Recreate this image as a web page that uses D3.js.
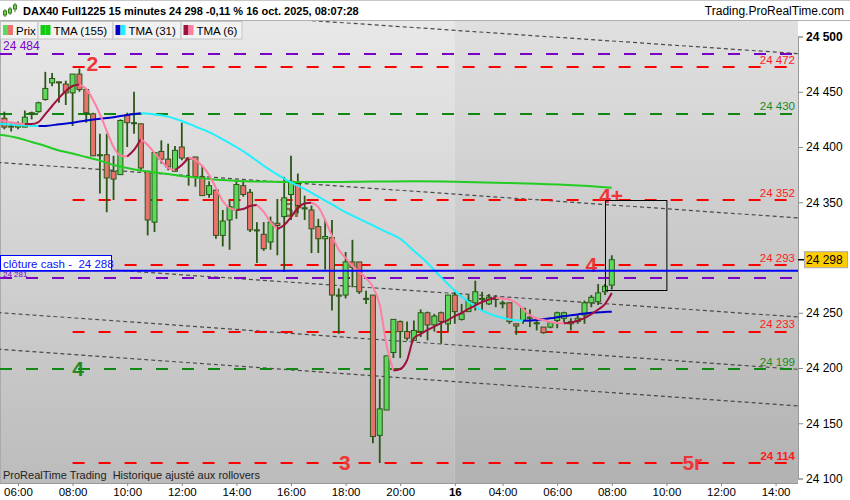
<!DOCTYPE html>
<html>
<head>
<meta charset="utf-8">
<script src="https://cdn.jsdelivr.net/npm/d3@7"></script>
<style>
body { margin: 0; background: #fff; }
svg { display: block; font-family: "Liberation Sans", Arial, sans-serif; }
</style>
</head>
<body>
<svg width="850" height="500"></svg>
<script>
// candle slot index -2 .. 87 (15 min bars), 0 = 06:00 on the 15th
const candleIdx = d3.range(-2, 88);
const opens = [
  24426,24419,24418,24418,24430,24432,24443,24458,24459,24457,
  24449,24466,24452,24430,24393,24393,24378,24375,24429,24422,
  24421,24378,24332,24396,24389,24378,24400,24390,24391,24373,
  24357,24361,24320,24334,24343,24365,24359,24325,24321,24314,
  24331,24337,24357,24367,24344,24343,24328,24317,24318,24265,
  24266,24296,24296,24263,24266,24139,24162,24214,24242,24233,
  24225,24233,24250,24239,24250,24240,24266,24244,24251,24259,
  24263,24258,24262,24259,24259,24240,24243,24245,24240,24237,
  24237,24243,24245,24242,24242,24248,24259,24260,24269,24275];
const highs = [
  24432,24422,24423,24433,24432,24441,24468,24467,24459,24460,
  24466,24471,24452,24431,24412,24412,24392,24425,24431,24450,
  24421,24378,24395,24406,24403,24401,24422,24390,24391,24383,
  24369,24361,24343,24352,24370,24369,24362,24332,24332,24337,
  24353,24373,24392,24376,24356,24347,24335,24334,24334,24272,
  24305,24316,24296,24270,24266,24190,24211,24244,24243,24242,
  24243,24253,24251,24249,24251,24266,24269,24258,24266,24279,
  24269,24267,24266,24261,24259,24240,24254,24253,24245,24237,
  24242,24251,24251,24245,24249,24261,24266,24276,24276,24302];
const lows = [
  24416,24414,24416,24418,24425,24431,24442,24455,24440,24438,
  24419,24450,24422,24392,24358,24341,24352,24375,24400,24412,
  24379,24320,24323,24385,24379,24378,24388,24365,24364,24356,
  24354,24317,24310,24307,24335,24355,24323,24295,24306,24307,
  24302,24287,24334,24340,24334,24304,24304,24289,24252,24231,
  24263,24273,24267,24258,24132,24114,24162,24209,24209,24225,
  24225,24228,24225,24233,24222,24233,24240,24243,24251,24252,
  24252,24257,24255,24254,24240,24230,24240,24237,24234,24231,
  24236,24236,24240,24234,24240,24240,24255,24257,24266,24271];
const closes = [
  24418,24418,24420,24427,24431,24440,24453,24462,24458,24449,
  24466,24452,24431,24392,24393,24372,24371,24424,24422,24422,
  24381,24334,24395,24389,24382,24397,24390,24389,24373,24356,
  24365,24320,24333,24346,24366,24357,24325,24325,24308,24332,
  24329,24354,24369,24347,24345,24326,24317,24319,24266,24266,
  24296,24291,24269,24263,24138,24163,24211,24244,24233,24227,
  24234,24250,24239,24247,24242,24266,24251,24249,24261,24269,
  24263,24264,24263,24259,24242,24238,24254,24246,24241,24232,
  24241,24250,24250,24240,24245,24259,24264,24268,24274,24298];

// moving averages
const tma155Idx = [-3,0,2,4,6,8,10,12,14,16,18,20,22,24,26,28,30,34,40,46,52,58,64,70,76,82,87];
const tma155Val = [24411.3,24408.1,24404.5,24400.9,24396.8,24394.1,24390.9,24387.7,24383.7,24381,24378.7,24376.9,24375.5,24373.7,24372.4,24371,24370.1,24368.8,24368.3,24368.3,24368.8,24368.9,24368.5,24367.6,24366.7,24365.1,24363.1];

const tma31Idx = [-3,-2,0,2,3,4,6,8,10,12,14,16,18,20,22,24,26,28,30,32,34,36,38,40,42,44,46,48,50,52,54,56,58,60,62,64,66,68,70,72,74,76,78,80,82,84,86,87];
const tma31Val = [24421.2,24420.8,24420,24419.2,24418.9,24419.1,24420.5,24422,24424,24425.5,24427,24429,24430.5,24429.5,24427.5,24423.5,24418.5,24413.5,24407,24400,24392,24383,24375,24368,24362,24355,24348,24341,24335,24329,24323,24317,24306,24295,24282,24270,24260,24252,24247,24244,24242.8,24243.5,24245,24247,24248.5,24250,24250.7,24251];

const tma6Idx = d3.range(-3, 88);
const tma6Val = [
  24424.5,24423.5,24422.1,24421.2,24420.8,24420.8,24422.6,24429.8,24437.1,24444.3,24450.7,
  24455.2,24456.5,24452.5,24442.5,24429.8,24414.5,24400,24392.3,24391.4,24397.3,
  24407.2,24401.8,24394.6,24387.3,24381,24379.2,24383.7,24390.5,24388.2,24382.8,
  24374.7,24362.9,24351.1,24344.8,24343,24343.9,24346.6,24347.5,24341.2,24332.1,
  24325.8,24329.4,24336.6,24344.8,24348.9,24349.6,24345.7,24333.9,24319.5,24307,
  24299.6,24292.3,24286.9,24281.4,24273.3,24257,24220.8,24197.7,24199.1,24207,
  24227.1,24230.7,24234.4,24237.5,24240.7,24243.4,24247,24249.8,24253.4,24256.5,
  24259.7,24262,24263.6,24262.9,24262,24258.8,24253.4,24247.9,24244.8,24243.4,
  24241.6,24240.7,24240.4,24241.1,24242.9,24245.2,24248.8,24252.9,24257.9,24267.8];

// horizontal levels
const levelPrice = [24484, 24472, 24430, 24352, 24293, 24281, 24233, 24199, 24114];
const levelKind  = ["purple","red","green","red","red","purple","red","green","red"];

// sloping dotted channel lines: price at slot -3 and at slot 115
const trendFrom = [24533.7, 24386.1, 24295.8, 24250.2, 24217.1];
const trendTo   = [24484.2, 24335.5, 24245.9, 24198.5, 24165.4];

// wave labels
const markText  = ["2", "5r", "4+", "4", "4", "3", "5r"];
const markIdx   = [10.9, 40.1, 86.9, 84, 8.8, 47.9, 98.8];
const markPrice = [24472, 24352, 24352, 24293, 24199, 24114, 24114];
const markColor = ["#ee3535", "#8a5a1c", "#ee3535", "#ee3535", "#1f8a1f", "#ee3535", "#ee3535"];

// time axis
const timeTickIdx = [0, 8, 16, 24, 32, 40, 48, 56, 64, 71, 79, 87, 95, 103, 111];
const timeTickLbl = ["06:00","08:00","10:00","12:00","14:00","16:00","18:00","20:00","16","04:00","06:00","08:00","10:00","12:00","14:00"];
// 24 300 is hidden behind the last-price tag
const priceTicks = [24100, 24150, 24200, 24250, 24350, 24400, 24450, 24500];

const lastPrice = 24298;
const cashClose = 24288;
const boxIdx = [86, 95];
const boxPrice = [24352, 24271];

const W = 850, H = 500;
const plotL = 0, plotR = 798, plotT = 21, plotB = 483;
const svg = d3.select("svg");

const x = d3.scaleLinear().domain([0, 111]).range([18, 775.6]);
const y = d3.scaleLinear().domain([24100, 24500]).range([478.5, 36.5]);
const fmt = d => d3.format(",")(d).replace(/,/g, " ");

const defs = svg.append("defs");
function grad(id, c1, c2) {
  const g = defs.append("linearGradient").attr("id", id).attr("x1", 0).attr("y1", 0).attr("x2", 0).attr("y2", 1);
  g.append("stop").attr("offset", "0%").attr("stop-color", c1);
  g.append("stop").attr("offset", "100%").attr("stop-color", c2);
}
grad("bgA", "#e8e8e8", "#bcbcbc");
grad("bgB", "#e0e0e0", "#b2b2b2");
defs.append("clipPath").attr("id", "plot")
  .append("rect").attr("x", plotL).attr("y", plotT).attr("width", plotR - plotL).attr("height", plotB - plotT);

// backgrounds
svg.append("rect").attr("width", W).attr("height", H).attr("fill", "#fff");
const dayX = x(64) - 0.5;
svg.append("rect").attr("x", plotL).attr("y", plotT).attr("width", dayX - plotL).attr("height", plotB - plotT).attr("fill", "url(#bgA)");
svg.append("rect").attr("x", dayX).attr("y", plotT).attr("width", plotR - dayX).attr("height", plotB - plotT).attr("fill", "url(#bgB)");
svg.append("line").attr("x1", 0.5).attr("x2", 0.5).attr("y1", plotT).attr("y2", plotB).attr("stroke", "#aaa");

const g = svg.append("g").attr("clip-path", "url(#plot)");

// channel lines
g.selectAll(".trend").data(trendFrom).enter().append("line")
  .attr("x1", x(-3)).attr("x2", x(115))
  .attr("y1", d => y(d)).attr("y2", (d, i) => y(trendTo[i]))
  .attr("stroke", "#4a4a4a").attr("stroke-width", 1.2).attr("stroke-dasharray", "4,3");

// levels
const levelColor = {purple: "#7a00c8", red: "#ff0000", green: "#118811"};
g.selectAll(".lvl").data(levelPrice).enter().append("line")
  .attr("x1", (d, i) => levelKind[i] === "red" ? x(8) : 0)
  .attr("x2", 796)
  .attr("y1", d => Math.round(y(d))).attr("y2", d => Math.round(y(d)))
  .attr("stroke", (d, i) => levelColor[levelKind[i]])
  .attr("stroke-width", 2).attr("stroke-dasharray", "12,14");

// wave labels (drawn beneath candles)
const markDy = [4, 17, 3, 6.5, 7, 7, 7];
g.selectAll(".mark").data(markText).enter().append("text")
  .attr("x", (d, i) => x(markIdx[i]))
  .attr("y", (d, i) => y(markPrice[i]) + markDy[i])
  .attr("text-anchor", "middle")
  .attr("font-size", 21).attr("font-weight", "bold")
  .attr("fill", (d, i) => markColor[i])
  .attr("opacity", (d, i) => i === 1 ? 0.85 : 1)
  .text(d => d);

// candles
const cg = g.append("g");
const cand = cg.selectAll(".c").data(candleIdx).enter().append("g");
cand.append("line")
  .attr("x1", d => x(d)).attr("x2", d => x(d))
  .attr("y1", (d, i) => y(highs[i])).attr("y2", (d, i) => y(lows[i]))
  .attr("stroke", "#2b5716").attr("stroke-width", 1.8);
cand.append("rect")
  .attr("x", d => x(d) - 2.5)
  .attr("width", 5)
  .attr("y", (d, i) => y(Math.max(opens[i], closes[i])))
  .attr("height", (d, i) => Math.max(1, Math.abs(y(opens[i]) - y(closes[i]))))
  .attr("fill", (d, i) => closes[i] >= opens[i] ? "#5cd95c" : "#e8736e")
  .attr("stroke", "#2b5716").attr("stroke-width", 1);

// moving averages
function runs(idxs, vals) {
  const out = [];
  let cur = [[idxs[0], vals[0]]], dir = null;
  for (let k = 1; k < idxs.length; k++) {
    const d = vals[k] >= vals[k - 1] ? 1 : -1;
    if (dir === null) dir = d;
    if (d !== dir) { out.push({dir, pts: cur}); cur = [[idxs[k - 1], vals[k - 1]]]; dir = d; }
    cur.push([idxs[k], vals[k]]);
  }
  out.push({dir, pts: cur});
  return out;
}
const line = d3.line().x(d => x(d[0])).y(d => y(d[1])).curve(d3.curveMonotoneX);

g.append("path")
  .attr("d", line(tma155Idx.map((d, i) => [d, tma155Val[i]])))
  .attr("fill", "none").attr("stroke", "#22cc22").attr("stroke-width", 2);

g.selectAll(".t31").data(runs(tma31Idx, tma31Val)).enter().append("path")
  .attr("d", d => line(d.pts))
  .attr("fill", "none").attr("stroke", d => d.dir > 0 ? "#0000cc" : "#1ef0ff").attr("stroke-width", 2);

g.selectAll(".t6").data(runs(tma6Idx, tma6Val)).enter().append("path")
  .attr("d", d => line(d.pts))
  .attr("fill", "none").attr("stroke", d => d.dir > 0 ? "#a0103c" : "#ff7fa3").attr("stroke-width", 2);

// projection box
g.append("rect")
  .attr("x", x(boxIdx[0]) + 0.5).attr("y", Math.round(y(boxPrice[0])) + 0.5)
  .attr("width", x(boxIdx[1]) - x(boxIdx[0]))
  .attr("height", Math.round(y(boxPrice[1]) - y(boxPrice[0])))
  .attr("fill", "none").attr("stroke", "#000").attr("stroke-width", 1);

// cash close line
g.append("line").attr("x1", 0).attr("x2", plotR)
  .attr("y1", y(cashClose)).attr("y2", y(cashClose))
  .attr("stroke", "#0000ff").attr("stroke-width", 2);

// right-hand level labels
const rightLv = levelPrice.filter((d, i) => levelKind[i] !== "purple");
const rightKind = levelKind.filter(k => k !== "purple");
g.selectAll(".rl").data(rightLv).enter().append("text")
  .attr("x", 795).attr("y", d => y(d) - 3.5)
  .attr("text-anchor", "end").attr("font-size", 11.5)
  .attr("font-weight", d => d === 24114 ? "bold" : "normal")
  .attr("fill", (d, i) => rightKind[i] === "green" ? "#1a8a1a" : "#ff1a1a")
  .text(fmt);

// left purple labels (the lower one peeks out just under the cash box)
const leftLv = levelPrice.filter((d, i) => levelKind[i] === "purple");
g.selectAll(".ll").data(leftLv).enter().append("text")
  .attr("x", 3).attr("y", (d, i) => y(d) - (i === 0 ? 4 : 1))
  .attr("font-size", (d, i) => i === 0 ? 12 : 8).attr("fill", "#7a00c8")
  .text(fmt);

// cash close box
const cb = svg.append("g");
cb.append("rect").attr("x", 0.5).attr("y", 255.5).attr("width", 111).attr("height", 15)
  .attr("fill", "#fff").attr("stroke", "#0000ff");
cb.append("text").attr("x", 3).attr("y", 267.5).attr("font-size", 11.5).attr("fill", "#1010ff")
  .text("clôture cash -\u00a0 " + fmt(cashClose));

// bottom-left note
svg.append("text").attr("x", 3).attr("y", 479).attr("font-size", 11).attr("fill", "#222")
  .text("ProRealTime Trading\u00a0 Historique ajusté aux rollovers");

// right axis
svg.append("rect").attr("x", plotR).attr("y", plotT).attr("width", W - plotR).attr("height", plotB - plotT).attr("fill", "#fff");
const ay = svg.append("g").attr("transform", `translate(${plotR},0)`)
  .call(d3.axisRight(y).tickValues(priceTicks).tickFormat(fmt).tickSize(5).tickPadding(3));
ay.select(".domain").attr("stroke", "#999");
ay.selectAll(".tick line").attr("stroke", "#888");
ay.selectAll("text").attr("font-size", 12).attr("fill", "#000")
  .attr("font-family", "'Liberation Sans', Arial, sans-serif")
  .attr("font-weight", d => d === 24500 ? "bold" : "normal");

// last price tag
const lp = svg.append("g").attr("transform", `translate(${plotR},${y(lastPrice)})`);
lp.append("line").attr("x1", 0).attr("x2", 6).attr("stroke", "#000").attr("stroke-width", 1.5);
lp.append("rect").attr("x", 6.5).attr("y", -8).attr("width", 43).attr("height", 16)
  .attr("fill", "#ffcc00").attr("stroke", "#aaa");
lp.append("text").attr("x", 8).attr("y", 4.5).attr("font-size", 12).attr("fill", "#000").text(fmt(lastPrice));

// bottom axis
svg.append("rect").attr("x", 0).attr("y", plotB).attr("width", W).attr("height", H - plotB).attr("fill", "#fff");
const ax = svg.append("g").attr("transform", `translate(0,${plotB})`)
  .call(d3.axisBottom(x).tickValues(timeTickIdx).tickFormat((d, i) => timeTickLbl[i]).tickSize(3).tickPadding(2));
ax.select(".domain").attr("d", `M0,0.5H${plotR}`).attr("stroke", "#999");
ax.selectAll(".tick line").attr("stroke", "#888");
ax.selectAll("text").attr("font-size", 11.5).attr("fill", "#000")
  .attr("font-family", "'Liberation Sans', Arial, sans-serif")
  .attr("font-weight", (d, i) => timeTickLbl[i] === "16" ? "bold" : "normal");

// header
svg.append("rect").attr("x", 0).attr("y", 0).attr("width", W).attr("height", plotT).attr("fill", "#fff");
svg.append("line").attr("x1", 0).attr("x2", W).attr("y1", 0.5).attr("y2", 0.5).attr("stroke", "#c8c8c8");
svg.append("line").attr("x1", 0).attr("x2", W).attr("y1", plotT - 0.5).attr("y2", plotT - 0.5).attr("stroke", "#b0b0b0");
const icon = svg.append("g").attr("stroke", "#3a7a20").attr("fill", "#6fd84f");
[[5, 9, 17, 11, 15], [10, 7, 15, 9, 13], [15, 3, 12, 5, 9]].forEach(c => {
  icon.append("line").attr("x1", c[0]).attr("x2", c[0]).attr("y1", c[1]).attr("y2", c[2]);
  icon.append("rect").attr("x", c[0] - 1.5).attr("y", c[3]).attr("width", 3).attr("height", c[4] - c[3]);
});
svg.append("text").attr("x", 23).attr("y", 15).attr("font-size", 11).attr("font-weight", "bold").attr("fill", "#000")
  .text("DAX40 Full1225 15 minutes 24 298 -0,11 % 16 oct. 2025, 08:07:28");
svg.append("text").attr("x", 844).attr("y", 15).attr("font-size", 12).attr("text-anchor", "end").attr("fill", "#000")
  .text("Trading.ProRealTime.com");

// legend
const legName = ["Prix", "TMA (155)", "TMA (31)", "TMA (6)"];
const legColA = ["#5cd95c", "#11cc11", "#0000cc", "#a0103c"];
const legColB = ["#e8736e", "#11cc11", "#1ef0ff", "#ff7fa3"];
const legX = [0, 37.5, 112.5, 180.5, 241.5];
legName.forEach((nm, i) => {
  const lg = svg.append("g").attr("transform", `translate(${legX[i]},${plotT})`);
  lg.append("rect").attr("x", 0.5).attr("y", 0.5).attr("width", legX[i + 1] - legX[i]).attr("height", 17.5)
    .attr("fill", "#f2f2f2").attr("stroke", "#c4c4c4");
  lg.append("rect").attr("x", 3).attr("y", 4).attr("width", 5).attr("height", 10).attr("fill", legColA[i]);
  lg.append("rect").attr("x", 8).attr("y", 4).attr("width", 5).attr("height", 10).attr("fill", legColB[i]);
  lg.append("text").attr("x", 16).attr("y", 13.5).attr("font-size", 11.5).attr("fill", "#000").text(nm);
});
</script>
</body>
</html>
